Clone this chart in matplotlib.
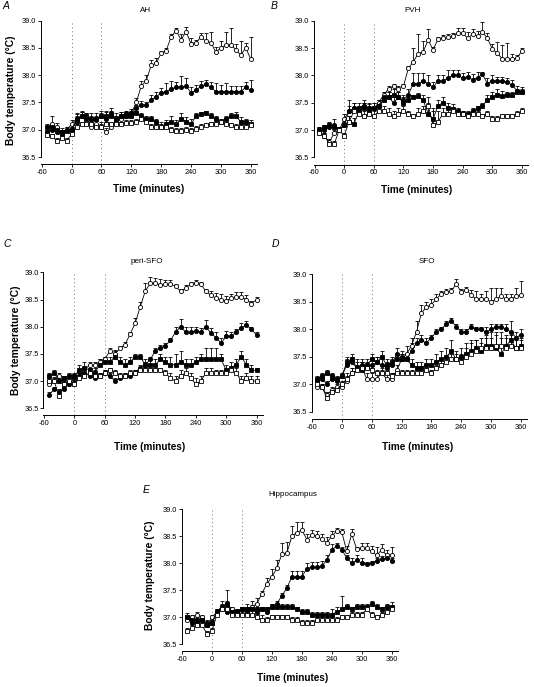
import numpy as np
import matplotlib
matplotlib.use("Agg")
import matplotlib.pyplot as plt

plt.rcParams['font.family'] = ['Liberation Sans', 'DejaVu Sans']

W, H = 534, 687

time = np.arange(-50, 361, 10)

# ---------------- Panel A (AH) ----------------
A_oc = [36.95, 37.10, 37.05, 36.95, 37.00, 37.10, 37.20, 37.25, 37.15, 37.05, 37.10, 37.05, 36.95, 37.05,
        37.15, 37.20, 37.25, 37.30, 37.50, 37.80, 37.90, 38.18, 38.22, 38.40, 38.45, 38.70, 38.82, 38.65,
        38.80, 38.58, 38.60, 38.70, 38.62, 38.60, 38.42, 38.50, 38.55, 38.56, 38.47, 38.37, 38.50, 38.30]
A_oc_e = [0.05, 0.15, 0.08, 0.08, 0.05, 0.08, 0.10, 0.08, 0.10, 0.08, 0.08, 0.10, 0.08, 0.08,
          0.10, 0.08, 0.05, 0.08, 0.08, 0.10, 0.10, 0.10, 0.10, 0.05, 0.05, 0.05, 0.05, 0.10,
          0.08, 0.10, 0.05, 0.08, 0.15, 0.20, 0.10, 0.12, 0.25, 0.30, 0.10, 0.25, 0.10, 0.40]
A_fc = [36.95, 37.00, 36.95, 36.90, 37.00, 37.00, 37.15, 37.25, 37.20, 37.20, 37.20, 37.25, 37.20, 37.30,
        37.20, 37.25, 37.30, 37.30, 37.40, 37.45, 37.45, 37.55, 37.60, 37.68, 37.70, 37.75, 37.78, 37.78,
        37.80, 37.68, 37.72, 37.80, 37.83, 37.78, 37.70, 37.70, 37.70, 37.70, 37.70, 37.70, 37.78, 37.72]
A_fc_e = [0.05, 0.10, 0.05, 0.05, 0.05, 0.05, 0.10, 0.08, 0.10, 0.10, 0.10, 0.10, 0.15, 0.10,
          0.10, 0.08, 0.05, 0.05, 0.05, 0.08, 0.05, 0.08, 0.10, 0.08, 0.15, 0.15, 0.10, 0.20,
          0.15, 0.10, 0.10, 0.10, 0.08, 0.10, 0.15, 0.12, 0.15, 0.10, 0.10, 0.10, 0.10, 0.20]
A_fs = [37.05, 37.05, 37.00, 36.95, 36.98, 37.00, 37.20, 37.25, 37.25, 37.20, 37.20, 37.25, 37.25, 37.25,
        37.20, 37.25, 37.25, 37.25, 37.30, 37.25, 37.20, 37.20, 37.15, 37.05, 37.10, 37.15, 37.10, 37.20,
        37.15, 37.10, 37.25, 37.28, 37.30, 37.25, 37.20, 37.15, 37.20, 37.25, 37.25, 37.15, 37.15, 37.10]
A_fs_e = [0.05, 0.05, 0.05, 0.05, 0.05, 0.05, 0.08, 0.10, 0.05, 0.05, 0.05, 0.05, 0.08, 0.10,
          0.05, 0.08, 0.05, 0.05, 0.05, 0.05, 0.05, 0.05, 0.05, 0.10, 0.08, 0.10, 0.08, 0.10,
          0.08, 0.10, 0.05, 0.05, 0.05, 0.05, 0.05, 0.05, 0.05, 0.05, 0.08, 0.08, 0.05, 0.08]
A_os = [36.90, 36.88, 36.80, 36.85, 36.80, 36.92, 37.05, 37.10, 37.10, 37.10, 37.05, 37.05, 37.10, 37.10,
        37.10, 37.10, 37.12, 37.12, 37.15, 37.20, 37.15, 37.05, 37.05, 37.05, 37.05, 37.00, 36.98, 36.98,
        37.00, 36.98, 37.02, 37.05, 37.08, 37.10, 37.10, 37.15, 37.10, 37.08, 37.05, 37.05, 37.05, 37.08]
A_os_e = [0.05, 0.05, 0.05, 0.05, 0.05, 0.05, 0.05, 0.05, 0.05, 0.05, 0.05, 0.05, 0.05, 0.05,
          0.05, 0.05, 0.05, 0.05, 0.05, 0.05, 0.05, 0.05, 0.05, 0.05, 0.05, 0.05, 0.05, 0.05,
          0.05, 0.05, 0.05, 0.05, 0.05, 0.05, 0.05, 0.05, 0.05, 0.05, 0.05, 0.05, 0.05, 0.05]

# ---------------- Panel B (PVH) ----------------
B_oc = [36.95, 36.90, 36.78, 36.95, 37.00, 37.20, 37.35, 37.40, 37.40, 37.45, 37.40, 37.40, 37.50, 37.65,
        37.75, 37.80, 37.75, 37.80, 38.13, 38.25, 38.40, 38.43, 38.65, 38.47, 38.66, 38.68, 38.70, 38.72,
        38.77, 38.77, 38.68, 38.75, 38.72, 38.79, 38.68, 38.48, 38.41, 38.30, 38.30, 38.30, 38.32, 38.45]
B_oc_e = [0.05, 0.05, 0.05, 0.05, 0.05, 0.10, 0.20, 0.10, 0.05, 0.05, 0.08, 0.05, 0.05, 0.05,
          0.05, 0.05, 0.05, 0.05, 0.05, 0.25, 0.35, 0.20, 0.20, 0.05, 0.05, 0.05, 0.05, 0.05,
          0.10, 0.10, 0.12, 0.10, 0.10, 0.18, 0.10, 0.10, 0.20, 0.25, 0.30, 0.10, 0.05, 0.05]
B_fc = [37.00, 37.00, 37.05, 37.10, 37.00, 37.10, 37.35, 37.40, 37.40, 37.45, 37.40, 37.40, 37.45, 37.60,
        37.60, 37.50, 37.60, 37.55, 37.65, 37.85, 37.85, 37.90, 37.85, 37.78, 37.90, 37.90, 37.95, 38.00,
        38.00, 37.95, 37.98, 37.92, 37.96, 38.02, 37.85, 37.90, 37.90, 37.90, 37.88, 37.82, 37.72, 37.70]
B_fc_e = [0.05, 0.05, 0.05, 0.10, 0.05, 0.10, 0.10, 0.10, 0.10, 0.10, 0.10, 0.10, 0.10, 0.10,
          0.10, 0.10, 0.10, 0.10, 0.10, 0.20, 0.20, 0.15, 0.15, 0.10, 0.10, 0.10, 0.15, 0.10,
          0.10, 0.10, 0.08, 0.10, 0.10, 0.05, 0.10, 0.10, 0.08, 0.08, 0.08, 0.10, 0.08, 0.08]
B_fs = [37.00, 37.05, 37.10, 37.05, 37.00, 37.10, 37.15, 37.12, 37.35, 37.40, 37.35, 37.40, 37.45, 37.55,
        37.60, 37.65, 37.60, 37.50, 37.55, 37.60, 37.62, 37.55, 37.30, 37.20, 37.45, 37.50, 37.40, 37.38,
        37.35, 37.30, 37.30, 37.35, 37.40, 37.45, 37.55, 37.60, 37.65, 37.62, 37.65, 37.65, 37.70, 37.70]
B_fs_e = [0.05, 0.05, 0.05, 0.05, 0.05, 0.05, 0.10, 0.10, 0.10, 0.10, 0.10, 0.10, 0.10, 0.10,
          0.10, 0.10, 0.10, 0.10, 0.05, 0.05, 0.05, 0.10, 0.30, 0.20, 0.10, 0.10, 0.10, 0.10,
          0.05, 0.05, 0.05, 0.05, 0.05, 0.05, 0.10, 0.10, 0.10, 0.10, 0.05, 0.05, 0.05, 0.05]
B_os = [36.95, 36.90, 36.75, 36.75, 37.00, 36.90, 37.15, 37.35, 37.30, 37.25, 37.30, 37.25, 37.35, 37.35,
        37.30, 37.25, 37.30, 37.35, 37.30, 37.25, 37.30, 37.35, 37.45, 37.10, 37.15, 37.30, 37.30, 37.35,
        37.30, 37.30, 37.25, 37.30, 37.30, 37.25, 37.30, 37.20, 37.20, 37.25, 37.25, 37.25, 37.30, 37.35]
B_os_e = [0.05, 0.05, 0.05, 0.05, 0.05, 0.05, 0.10, 0.08, 0.10, 0.10, 0.10, 0.10, 0.10, 0.10,
          0.10, 0.10, 0.10, 0.10, 0.05, 0.05, 0.10, 0.10, 0.05, 0.25, 0.20, 0.10, 0.10, 0.05,
          0.05, 0.05, 0.05, 0.05, 0.05, 0.05, 0.05, 0.05, 0.05, 0.05, 0.05, 0.05, 0.05, 0.05]

# ---------------- Panel C (peri-SFO) ----------------
C_oc = [36.95, 37.00, 37.10, 36.95, 36.95, 36.95, 37.10, 37.20, 37.30, 37.30, 37.35, 37.40, 37.55, 37.50,
        37.60, 37.67, 37.86, 38.06, 38.36, 38.65, 38.80, 38.80, 38.77, 38.78, 38.78, 38.74, 38.65, 38.71,
        38.78, 38.80, 38.78, 38.65, 38.58, 38.52, 38.50, 38.48, 38.52, 38.55, 38.55, 38.50, 38.42, 38.50]
C_oc_e = [0.05, 0.05, 0.05, 0.05, 0.05, 0.05, 0.05, 0.05, 0.05, 0.05, 0.05, 0.05, 0.05, 0.08,
          0.05, 0.05, 0.05, 0.10, 0.10, 0.15, 0.12, 0.10, 0.10, 0.08, 0.08, 0.05, 0.05, 0.05,
          0.05, 0.05, 0.05, 0.05, 0.08, 0.10, 0.10, 0.08, 0.08, 0.08, 0.08, 0.08, 0.05, 0.05]
C_fc = [36.75, 36.85, 36.80, 36.85, 36.95, 37.05, 37.10, 37.15, 37.10, 37.05, 37.10, 37.15, 37.10, 37.00,
        37.05, 37.10, 37.10, 37.15, 37.25, 37.30, 37.40, 37.55, 37.61, 37.65, 37.75, 37.90, 38.00, 37.90,
        37.90, 37.92, 37.90, 38.00, 37.88, 37.80, 37.70, 37.82, 37.82, 37.90, 37.98, 38.03, 37.95, 37.85]
C_fc_e = [0.05, 0.05, 0.05, 0.05, 0.05, 0.05, 0.05, 0.05, 0.05, 0.05, 0.05, 0.05, 0.05, 0.05,
          0.05, 0.05, 0.05, 0.05, 0.05, 0.05, 0.05, 0.05, 0.05, 0.05, 0.05, 0.10, 0.15, 0.10,
          0.10, 0.08, 0.08, 0.12, 0.10, 0.10, 0.10, 0.10, 0.08, 0.05, 0.08, 0.08, 0.05, 0.05]
C_fs = [37.10, 37.15, 37.00, 37.05, 37.10, 37.10, 37.20, 37.25, 37.20, 37.15, 37.30, 37.35, 37.35, 37.45,
        37.35, 37.30, 37.35, 37.45, 37.45, 37.30, 37.30, 37.30, 37.40, 37.35, 37.30, 37.30, 37.35, 37.30,
        37.30, 37.35, 37.40, 37.40, 37.40, 37.40, 37.40, 37.20, 37.25, 37.30, 37.45, 37.30, 37.20, 37.20]
C_fs_e = [0.05, 0.05, 0.05, 0.05, 0.05, 0.05, 0.10, 0.10, 0.10, 0.10, 0.10, 0.10, 0.10, 0.10,
          0.10, 0.10, 0.10, 0.05, 0.05, 0.10, 0.10, 0.10, 0.10, 0.10, 0.15, 0.20, 0.20, 0.10,
          0.10, 0.10, 0.10, 0.20, 0.20, 0.20, 0.10, 0.10, 0.10, 0.10, 0.10, 0.10, 0.10, 0.05]
C_os = [37.00, 37.00, 36.72, 36.95, 37.00, 36.95, 37.05, 37.10, 37.15, 37.10, 37.10, 37.15, 37.20, 37.15,
        37.10, 37.10, 37.15, 37.15, 37.20, 37.20, 37.20, 37.20, 37.20, 37.15, 37.05, 37.00, 37.10, 37.15,
        37.05, 36.95, 37.00, 37.15, 37.15, 37.15, 37.15, 37.15, 37.20, 37.15, 37.00, 37.05, 37.00, 37.00]
C_os_e = [0.05, 0.08, 0.05, 0.05, 0.05, 0.05, 0.10, 0.10, 0.10, 0.10, 0.05, 0.05, 0.05, 0.05,
          0.05, 0.05, 0.05, 0.05, 0.05, 0.05, 0.05, 0.05, 0.05, 0.05, 0.10, 0.10, 0.10, 0.10,
          0.10, 0.10, 0.10, 0.10, 0.10, 0.05, 0.05, 0.05, 0.05, 0.10, 0.10, 0.10, 0.10, 0.10]

# ---------------- Panel D (SFO) ----------------
D_oc = [36.95, 36.95, 36.80, 36.90, 36.95, 36.95, 37.05, 37.20, 37.25, 37.30, 37.10, 37.10, 37.10, 37.20,
        37.10, 37.10, 37.25, 37.45, 37.55, 37.70, 37.95, 38.30, 38.40, 38.45, 38.55, 38.65, 38.68, 38.70,
        38.82, 38.68, 38.72, 38.62, 38.55, 38.55, 38.55, 38.50, 38.55, 38.60, 38.55, 38.55, 38.60, 38.62]
D_oc_e = [0.05, 0.05, 0.05, 0.05, 0.05, 0.05, 0.10, 0.10, 0.10, 0.10, 0.10, 0.10, 0.10, 0.10,
          0.10, 0.10, 0.10, 0.10, 0.15, 0.15, 0.20, 0.15, 0.10, 0.10, 0.10, 0.05, 0.05, 0.05,
          0.10, 0.05, 0.05, 0.10, 0.15, 0.10, 0.15, 0.25, 0.20, 0.15, 0.10, 0.10, 0.15, 0.25]
D_fc = [37.05, 37.10, 37.00, 37.10, 37.05, 37.15, 37.35, 37.40, 37.30, 37.35, 37.30, 37.35, 37.40, 37.35,
        37.30, 37.35, 37.55, 37.50, 37.45, 37.60, 37.75, 37.80, 37.75, 37.85, 37.95, 38.00, 38.10, 38.15,
        38.05, 37.95, 37.95, 38.05, 38.00, 38.00, 37.95, 38.00, 38.05, 38.05, 38.00, 37.95, 37.85, 37.90]
D_fc_e = [0.05, 0.05, 0.05, 0.05, 0.05, 0.05, 0.10, 0.10, 0.10, 0.10, 0.10, 0.10, 0.10, 0.10,
          0.10, 0.10, 0.10, 0.10, 0.10, 0.15, 0.10, 0.10, 0.10, 0.05, 0.05, 0.05, 0.05, 0.05,
          0.05, 0.05, 0.05, 0.05, 0.05, 0.05, 0.10, 0.10, 0.05, 0.05, 0.10, 0.20, 0.10, 0.10]
D_fs = [37.10, 37.15, 37.20, 37.15, 37.10, 37.15, 37.40, 37.45, 37.30, 37.25, 37.35, 37.45, 37.40, 37.50,
        37.35, 37.40, 37.45, 37.45, 37.45, 37.35, 37.30, 37.30, 37.35, 37.35, 37.40, 37.45, 37.50, 37.60,
        37.45, 37.50, 37.55, 37.60, 37.65, 37.60, 37.70, 37.70, 37.65, 37.55, 37.70, 37.80, 37.65, 37.70]
D_fs_e = [0.05, 0.05, 0.05, 0.05, 0.05, 0.05, 0.10, 0.10, 0.15, 0.15, 0.10, 0.10, 0.10, 0.10,
          0.10, 0.10, 0.10, 0.10, 0.10, 0.10, 0.10, 0.10, 0.10, 0.10, 0.15, 0.15, 0.15, 0.20,
          0.15, 0.15, 0.20, 0.20, 0.15, 0.15, 0.20, 0.25, 0.25, 0.30, 0.20, 0.15, 0.20, 0.15]
D_os = [37.00, 36.95, 36.75, 36.85, 36.90, 37.00, 37.10, 37.20, 37.25, 37.30, 37.30, 37.25, 37.20, 37.20,
        37.20, 37.15, 37.20, 37.20, 37.20, 37.20, 37.20, 37.20, 37.25, 37.20, 37.30, 37.35, 37.40, 37.45,
        37.45, 37.40, 37.50, 37.55, 37.60, 37.65, 37.65, 37.65, 37.70, 37.70, 37.65, 37.70, 37.65, 37.65]
D_os_e = [0.05, 0.05, 0.05, 0.05, 0.05, 0.05, 0.10, 0.10, 0.10, 0.10, 0.05, 0.05, 0.05, 0.05,
          0.05, 0.05, 0.05, 0.05, 0.05, 0.05, 0.05, 0.05, 0.05, 0.05, 0.05, 0.10, 0.10, 0.10,
          0.10, 0.15, 0.15, 0.20, 0.20, 0.20, 0.20, 0.20, 0.25, 0.25, 0.20, 0.20, 0.15, 0.15]

# ---------------- Panel E (Hippocampus) ----------------
E_oc = [36.95, 37.00, 37.05, 37.00, 36.85, 37.00, 37.10, 37.20, 37.25, 37.15, 37.10, 37.15, 37.15, 37.20,
        37.25, 37.44, 37.62, 37.75, 37.91, 38.17, 38.19, 38.50, 38.57, 38.62, 38.44, 38.52, 38.50, 38.45,
        38.38, 38.50, 38.60, 38.58, 38.22, 38.54, 38.26, 38.28, 38.28, 38.22, 38.15, 38.25, 38.15, 38.15]
E_oc_e = [0.05, 0.05, 0.05, 0.05, 0.05, 0.05, 0.05, 0.05, 0.05, 0.05, 0.05, 0.05, 0.05, 0.10,
          0.10, 0.05, 0.10, 0.15, 0.15, 0.20, 0.20, 0.20, 0.20, 0.15, 0.10, 0.10, 0.10, 0.10,
          0.10, 0.10, 0.05, 0.05, 0.10, 0.10, 0.05, 0.10, 0.10, 0.10, 0.15, 0.10, 0.10, 0.15]
E_fc = [37.00, 36.90, 36.90, 36.95, 36.90, 36.90, 37.10, 37.15, 37.10, 37.10, 37.10, 37.15, 37.10, 37.15,
        37.15, 37.15, 37.10, 37.20, 37.25, 37.40, 37.54, 37.75, 37.75, 37.75, 37.90, 37.93, 37.93, 37.95,
        38.06, 38.25, 38.32, 38.25, 38.10, 38.00, 38.06, 38.00, 37.98, 38.00, 38.05, 38.08, 38.10, 38.05]
E_fc_e = [0.05, 0.05, 0.05, 0.05, 0.05, 0.05, 0.05, 0.05, 0.05, 0.05, 0.05, 0.05, 0.05, 0.05,
          0.05, 0.05, 0.05, 0.05, 0.05, 0.05, 0.05, 0.10, 0.10, 0.10, 0.10, 0.10, 0.10, 0.10,
          0.10, 0.10, 0.05, 0.05, 0.05, 0.10, 0.10, 0.10, 0.05, 0.05, 0.05, 0.05, 0.05, 0.05]
E_fs = [37.00, 36.95, 36.95, 36.95, 36.85, 36.90, 37.10, 37.20, 37.25, 37.10, 37.10, 37.15, 37.15, 37.15,
        37.10, 37.15, 37.15, 37.20, 37.20, 37.20, 37.20, 37.20, 37.15, 37.10, 37.10, 37.05, 37.05, 37.05,
        37.05, 37.05, 37.10, 37.15, 37.20, 37.15, 37.20, 37.20, 37.20, 37.25, 37.20, 37.15, 37.20, 37.20]
E_fs_e = [0.08, 0.05, 0.05, 0.05, 0.05, 0.05, 0.05, 0.10, 0.25, 0.05, 0.05, 0.05, 0.10, 0.08,
          0.10, 0.05, 0.05, 0.05, 0.05, 0.05, 0.05, 0.05, 0.05, 0.05, 0.05, 0.05, 0.05, 0.05,
          0.05, 0.10, 0.10, 0.25, 0.05, 0.05, 0.05, 0.05, 0.05, 0.05, 0.05, 0.05, 0.05, 0.08]
E_os = [36.75, 36.80, 36.85, 36.85, 36.70, 36.75, 37.05, 37.15, 37.15, 37.05, 37.05, 37.05, 37.05, 37.05,
        37.00, 36.95, 36.95, 37.00, 37.00, 37.00, 37.00, 36.95, 36.95, 36.90, 36.90, 36.90, 36.95, 36.95,
        36.95, 36.95, 36.95, 37.00, 37.00, 37.05, 37.05, 37.05, 37.15, 37.05, 37.00, 37.05, 37.10, 37.15]
E_os_e = [0.05, 0.05, 0.05, 0.05, 0.05, 0.05, 0.05, 0.05, 0.05, 0.05, 0.05, 0.05, 0.10, 0.10,
          0.10, 0.10, 0.05, 0.05, 0.05, 0.05, 0.05, 0.05, 0.05, 0.05, 0.05, 0.05, 0.05, 0.05,
          0.05, 0.05, 0.05, 0.05, 0.05, 0.05, 0.05, 0.05, 0.05, 0.05, 0.05, 0.05, 0.05, 0.05]

panel_titles = ["AH", "PVH", "peri-SFO", "SFO", "Hippocampus"]
panel_letters = ["A", "B", "C", "D", "E"]
x_ticks = [-60, 0, 60, 120, 180, 240, 300, 360]
y_ticks = [36.5, 37.0, 37.5, 38.0, 38.5, 39.0]
x_label = "Time (minutes)"
y_label = "Body temperature (°C)"

panels = [
    [(A_oc, A_oc_e), (A_fc, A_fc_e), (A_fs, A_fs_e), (A_os, A_os_e)],
    [(B_oc, B_oc_e), (B_fc, B_fc_e), (B_fs, B_fs_e), (B_os, B_os_e)],
    [(C_oc, C_oc_e), (C_fc, C_fc_e), (C_fs, C_fs_e), (C_os, C_os_e)],
    [(D_oc, D_oc_e), (D_fc, D_fc_e), (D_fs, D_fs_e), (D_os, D_os_e)],
    [(E_oc, E_oc_e), (E_fc, E_fc_e), (E_fs, E_fs_e), (E_os, E_os_e)],
]

# series styles: open circle, filled circle, filled square, open square
styles = [dict(marker='o', mfc='white'), dict(marker='o', mfc='black'),
          dict(marker='s', mfc='black'), dict(marker='s', mfc='white')]

# pixel anchors: x(-60), x(360), y(39.0), y(36.5)
anchors = [
    (41.7, 250.7, 20.7, 157.0),
    (314.5, 522.0, 20.7, 157.5),
    (44.0, 256.5, 272.3, 408.3),
    (312.0, 521.0, 274.3, 411.7),
    (182.0, 391.7, 509.3, 644.3),
]
XL = (-61, 372)
YL = (36.37, 39.02)

# text positions in pixels
letter_pos = [(3, 1), (271, 1), (3, 239), (272, 239), (143, 485)]
title_pos = [(146, 10.5), (413, 10.5), (147, 262), (427, 262), (293, 495)]
xlabel_pos = [(149, 189), (417, 190), (150, 447), (418, 447), (293, 678)]
ylabel_pos = {0: (11, 90), 2: (16, 340), 4: (150, 575)}

fig = plt.figure(figsize=(W / 100, H / 100), dpi=100)


def rect(a):
    x0, x1, y0, y1 = a
    sx = (x1 - x0) / 420.0
    sy = (y1 - y0) / 2.5
    lp = x0 + (XL[0] + 60) * sx
    rp = x0 + (XL[1] + 60) * sx
    tp = y0 - (YL[1] - 39.0) * sy
    bp = y0 + (39.0 - YL[0]) * sy
    return [lp / W, 1 - bp / H, (rp - lp) / W, (bp - tp) / H]


for i, series in enumerate(panels):
    ax = fig.add_axes(rect(anchors[i]))
    ax.set_xlim(*XL)
    ax.set_ylim(*YL)
    ax.vlines([0, 60], YL[0], 39.0, colors='0.45', linestyles=(0, (1, 3)), lw=0.7, zorder=1)
    for k, (vals, errs) in enumerate(series):
        v = np.array(vals)
        e = np.array(errs)
        ax.errorbar(time, v, yerr=[np.zeros_like(e), e], fmt='none', ecolor='black',
                    elinewidth=0.6, capsize=1.4, capthick=0.6, zorder=2 + k)
    for k, (vals, errs) in enumerate(series):
        ax.plot(time, vals, color='black', lw=0.6, ms=3.0, mec='black', mew=0.6,
                zorder=6 + k, **styles[k])
    for s in ['top', 'right']:
        ax.spines[s].set_visible(False)
    ax.spines['left'].set_bounds(36.5, 39.0)
    ax.spines['left'].set_linewidth(0.7)
    ax.spines['bottom'].set_linewidth(0.7)
    ax.set_xticks(x_ticks)
    ax.set_xticklabels([str(t) for t in x_ticks])
    ax.set_yticks(y_ticks)
    ax.set_yticklabels(["%.1f" % y for y in y_ticks])
    ax.tick_params(axis='both', labelsize=5.3, length=2, width=0.6, pad=1.5, direction='out')

    lx, ly = letter_pos[i]
    fig.text(lx / W, 1 - ly / H, panel_letters[i], fontsize=7.5, style='italic',
             ha='left', va='top')
    tx, ty = title_pos[i]
    fig.text(tx / W, 1 - ty / H, panel_titles[i], fontsize=5.8, ha='center', va='center')
    xx, xy = xlabel_pos[i]
    fig.text(xx / W, 1 - xy / H, x_label, fontsize=7.2, fontweight='bold', ha='center', va='center')
    if i in ylabel_pos:
        yx, yy = ylabel_pos[i]
        fig.text(yx / W, 1 - yy / H, y_label, fontsize=7.4, fontweight='bold', ha='center',
                 va='center', rotation=90)

fig.savefig("out.png", dpi=100)
